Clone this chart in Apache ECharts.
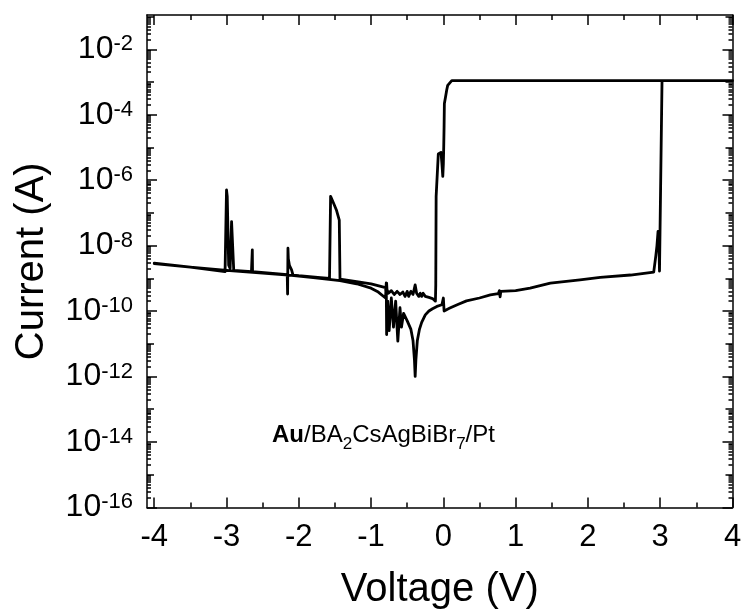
<!DOCTYPE html>
<html>
<head>
<meta charset="utf-8">
<script src="https://cdn.jsdelivr.net/npm/echarts@6/dist/echarts.min.js"></script>
<style>html,body{margin:0;padding:0;background:#fff}#chart{width:742px;height:616px}</style>
</head>
<body>
<div id="chart"></div>
<script>
// ---------------- data (voltage in V, current in A) ----------------
// return sweep -4 V -> 0 V (lower HRS branch, noise and zero-crossing dip)
const returnV = [-4.00, -3.50, -3.00, -2.50, -2.10, -1.80, -1.43, -1.20, -1.00, -0.90, -0.80, -0.79, -0.785, -0.77, -0.75, -0.72, -0.69, -0.66, -0.63, -0.60, -0.58, -0.55, -0.50, -0.45, -0.42, -0.40, -0.39, -0.38, -0.36, -0.33, -0.30, -0.25, -0.20, -0.15, -0.09, -0.02];
const returnI = [2.8e-9, 2.2e-9, 1.74e-9, 1.45e-9, 1.23e-9, 1.05e-9, 8.5e-10, 6.8e-10, 5.0e-10, 3.8e-10, 2.5e-10, 7.2e-10, 1.9e-11, 2.0e-10, 2.5e-11, 2.5e-10, 3.2e-11, 2.0e-10, 1.2e-11, 1.26e-10, 3.2e-11, 8.5e-11, 5.0e-11, 2.8e-11, 1.26e-11, 3.2e-12, 1.0e-12, 3.2e-12, 1.26e-11, 2.8e-11, 4.5e-11, 7.6e-11, 1.0e-10, 1.17e-10, 1.38e-10, 1.55e-10];
// forward sweep 0 V -> 3 V (HRS) up to the SET jump
const setV = [0.00, 0.01, 0.05, 0.09, 0.20, 0.32, 0.50, 0.65, 0.76, 0.775, 0.785, 0.795, 0.81, 1.00, 1.20, 1.48, 1.89, 2.17, 2.59, 2.91, 2.93, 2.94, 2.955, 2.97, 2.98, 2.99, 3.01, 3.025];
const setI = [2.5e-10, 1.0e-10, 1.12e-10, 1.23e-10, 1.58e-10, 2.04e-10, 2.5e-10, 3.1e-10, 3.4e-10, 4.2e-10, 2.7e-10, 4.0e-10, 3.5e-10, 4.2e-10, 5.0e-10, 7.1e-10, 8.9e-10, 1.07e-9, 1.26e-9, 1.55e-9, 1.66e-9, 5.0e-9, 1.0e-8, 2.7e-8, 2.0e-8, 1.66e-9, 1.58e-9, 1.1e-3];
// LRS (compliance) 3 V -> 4 V -> 0 V and RESET near -0.1 V
const lrsV = [3.025, 3.5, 4.0, 3.0, 2.0, 1.0, 0.5, 0.2, 0.116, 0.09, 0.06, 0.047, 0.03, 0.014, 0.01, 0.005, 0.0, -0.008, -0.02, -0.033, -0.05, -0.07, -0.09, -0.10, -0.105, -0.11];
const lrsI = [1.1e-3, 1.1e-3, 1.1e-3, 1.1e-3, 1.1e-3, 1.1e-3, 1.1e-3, 1.1e-3, 1.1e-3, 1.05e-3, 7.9e-4, 5.8e-4, 3.5e-4, 2.2e-4, 4.4e-5, 1.05e-5, 3.2e-6, 1.3e-6, 3.2e-6, 7.1e-6, 7.4e-6, 6.3e-6, 5.6e-6, 3.2e-7, 6.3e-10, 2.0e-10];
// negative sweep -0.11 V -> -4 V (upper HRS branch with spikes)
const negV = [-0.11, -0.15, -0.20, -0.25, -0.28, -0.30, -0.32, -0.34, -0.37, -0.39, -0.40, -0.42, -0.45, -0.48, -0.50, -0.53, -0.56, -0.60, -0.64, -0.68, -0.72, -0.76, -0.78, -0.785, -0.79, -0.80, -1.00, -1.20, -1.43, -1.44, -1.48, -1.52, -1.56, -1.57, -1.575, -1.70, -2.00, -2.08, -2.10, -2.12, -2.13, -2.145, -2.15, -2.155, -2.16, -2.40, -2.64, -2.643, -2.65, -2.655, -2.90, -2.92, -2.93, -2.945, -2.95, -2.97, -2.99, -3.00, -3.01, -3.02, -3.03, -3.50, -4.00];
const negI = [2.0e-10, 2.4e-10, 2.6e-10, 2.8e-10, 3.5e-10, 2.8e-10, 3.5e-10, 2.8e-10, 3.5e-10, 6.3e-10, 5.0e-10, 3.2e-10, 4.0e-10, 2.8e-10, 4.0e-10, 2.8e-10, 3.8e-10, 3.2e-10, 4.0e-10, 3.2e-10, 4.2e-10, 3.5e-10, 4.5e-10, 7.1e-10, 2.8e-10, 5.2e-10, 6.8e-10, 7.9e-10, 9.5e-10, 6.0e-8, 1.23e-7, 2.0e-7, 3.2e-7, 3.5e-7, 1.0e-9, 1.05e-9, 1.2e-9, 1.26e-9, 1.8e-9, 2.0e-9, 2.5e-9, 4.0e-9, 8.3e-9, 3.3e-10, 1.3e-9, 1.45e-9, 1.6e-9, 7.4e-9, 7.4e-9, 1.6e-9, 1.75e-9, 1.75e-9, 5.4e-8, 5.0e-8, 2.0e-9, 2.5e-9, 3.2e-7, 5.0e-7, 4.5e-7, 1.6e-9, 1.8e-9, 2.2e-9, 2.9e-9];

// axis ticks / labels
const xMajorTicks = [-4, -3, -2, -1, 0, 1, 2, 3, 4];
const xMinorTicks = [-3.5, -2.5, -1.5, -0.5, 0.5, 1.5, 2.5, 3.5];
const yLabelTicks = [1e-16, 1e-14, 1e-12, 1e-10, 1e-8, 1e-6, 1e-4, 1e-2];
const yOddTicks = [1e-15, 1e-13, 1e-11, 1e-9, 1e-7, 1e-5, 1e-3, 1e-1];
const X_MIN = -4.1, X_MAX = 4;
const Y_MIN = 0.985e-16, Y_MAX = 0.112;

// ---------------- chart ----------------
const FONT = '"Liberation Sans", Arial, Helvetica, sans-serif';
const yMinorTicks = [];
for (let e = -16; e <= -1; e++) {
  for (let k = 2; k <= 9; k++) {
    const v = k * Math.pow(10, e);
    if (v < Y_MAX) yMinorTicks.push(v);
  }
}

function toPairs(v, i) { return v.map((x, n) => [x, i[n]]); }
const sweep = [].concat(
  toPairs(returnV, returnI),
  toPairs(setV, setI),
  toPairs(lrsV, lrsI),
  toPairs(negV, negI)
);

const tickLine = { color: '#000', width: 1.5 };

function xAx(position, ticks, len, withLine, extra) {
  return Object.assign({
    type: 'value', min: X_MIN, max: X_MAX, position: position,
    axisLine: { show: withLine, onZero: false, lineStyle: { color: '#000', width: 1.5 } },
    axisTick: { show: true, inside: true, length: len, customValues: ticks, lineStyle: tickLine },
    axisLabel: { show: false },
    splitLine: { show: false }, minorTick: { show: false }
  }, extra || {});
}
function yAx(position, ticks, len, withLine, extra) {
  return Object.assign({
    type: 'log', logBase: 10, min: Y_MIN, max: Y_MAX, position: position,
    axisLine: { show: withLine, onZero: false, lineStyle: { color: '#000', width: 1.5 } },
    axisTick: { show: true, inside: true, length: len, customValues: ticks, lineStyle: tickLine },
    axisLabel: { show: false },
    splitLine: { show: false }, minorTick: { show: false }
  }, extra || {});
}

const chart = echarts.init(document.getElementById('chart'), null, { renderer: 'canvas' });
chart.setOption({
  animation: false,
  backgroundColor: '#fff',
  grid: { left: 147, right: 9.5, top: 15, bottom: 108.5, containLabel: false, outerBoundsMode: 'none' },
  title: {
    text: '{b|Au}{n|/BA}{s|2}{n|CsAgBiBr}{s|7}{n|/Pt}',
    left: 272, top: 423.5, padding: 0,
    textStyle: {
      fontWeight: 'normal',
      rich: {
        b: { fontFamily: FONT, fontSize: 24, fontWeight: 'bold', color: '#000', verticalAlign: 'top' },
        n: { fontFamily: FONT, fontSize: 24, fontWeight: 'normal', color: '#000', verticalAlign: 'top' },
        s: { fontFamily: FONT, fontSize: 17, fontWeight: 'normal', color: '#000', lineHeight: 29.8, verticalAlign: 'bottom' }
      }
    }
  },
  xAxis: [
    xAx('bottom', xMajorTicks, 10, true, {
      name: 'Voltage (V)', nameLocation: 'middle', nameGap: 62,
      nameTextStyle: { fontFamily: FONT, fontSize: 40, color: '#000' },
      axisLabel: { show: true, customValues: xMajorTicks, fontFamily: FONT, fontSize: 31, color: '#000', margin: 14 }
    }),
    xAx('bottom', xMinorTicks, 5, false),
    xAx('top', xMajorTicks, 10, true),
    xAx('top', xMinorTicks, 5, false)
  ],
  yAxis: [
    yAx('left', yLabelTicks, 10, true, {
      name: 'Current (A)', nameLocation: 'middle', nameGap: 95,
      nameTextStyle: { fontFamily: FONT, fontSize: 40, color: '#000' },
      axisLabel: {
        show: true, customValues: yLabelTicks, margin: 14,
        formatter: function (v) { return '{a|10}{b|' + Math.round(Math.log10(v)) + '}'; },
        rich: {
          a: { fontFamily: FONT, fontSize: 32, color: '#000', lineHeight: 32 },
          b: { fontFamily: FONT, fontSize: 22, color: '#000', lineHeight: 22, verticalAlign: 'top' }
        }
      }
    }),
    yAx('left', yOddTicks, 7, false),
    yAx('left', yMinorTicks, 4, false),
    yAx('right', yLabelTicks, 10, true),
    yAx('right', yOddTicks, 7, false),
    yAx('right', yMinorTicks, 4, false)
  ],
  series: [{
    type: 'line', xAxisIndex: 0, yAxisIndex: 0,
    data: sweep, showSymbol: false, symbol: 'none', silent: true,
    lineStyle: { color: '#000', width: 2.8, join: 'round', cap: 'round' }
  }]
});
</script>
</body>
</html>
